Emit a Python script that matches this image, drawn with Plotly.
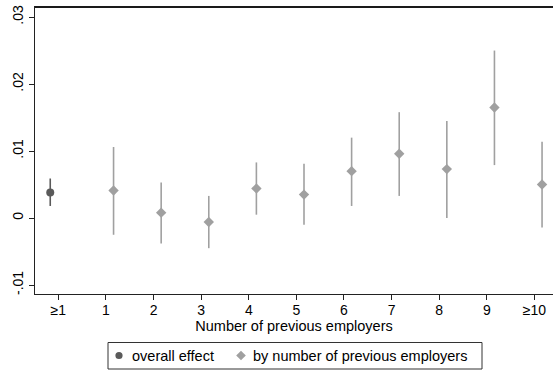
import plotly.graph_objects as go

# Category labels on the x axis
categories = ["≥1", "1", "2", "3", "4", "5", "6", "7", "8", "9", "≥10"]

# Overall effect (all workers with at least one previous employer)
overall_est = [0.0038]
overall_lo = [0.0018]
overall_hi = [0.0059]

# Effects by number of previous employers (1 .. ≥10)
by_est = [0.0041, 0.0008, -0.0006, 0.0044, 0.0035, 0.0070, 0.0096, 0.0073, 0.0165, 0.0050]
by_lo = [-0.0025, -0.0038, -0.0045, 0.0005, -0.0010, 0.0018, 0.0033, 0.0000, 0.0079, -0.0014]
by_hi = [0.0106, 0.0053, 0.0033, 0.0083, 0.0081, 0.0120, 0.0158, 0.0145, 0.0250, 0.0114]

y_ticks = [-0.01, 0.0, 0.01, 0.02, 0.03]
y_tick_labels = ["-.01", "0", ".01", ".02", ".03"]

legend_labels = ["overall effect", "by number of previous employers"]

FONT = "Liberation Sans, Arial, sans-serif"
DARK = "#5a5a5a"
LIGHT = "#a0a0a0"
AXIS = "#222222"

# plot area in pixels
W, H = 553, 374
ML, MR, MT, MB = 35, 0, 7, 80
PW, PH = W - ML - MR, H - MT - MB


def px_x(px):
    return (px - ML) / PW


def px_y(py):
    return (H - MB - py) / PH


x_overall = [0 - 0.17]
x_by = [i + 0.16 for i in range(1, len(categories))]

fig = go.Figure()

fig.add_trace(go.Scatter(
    x=x_overall, y=overall_est, mode="markers", name=legend_labels[0],
    marker=dict(symbol="circle", size=8, color=DARK),
    error_y=dict(type="data", symmetric=False,
                 array=[h - e for h, e in zip(overall_hi, overall_est)],
                 arrayminus=[e - l for e, l in zip(overall_est, overall_lo)],
                 color=DARK, thickness=1.6, width=0),
    showlegend=False,
))

fig.add_trace(go.Scatter(
    x=x_by, y=by_est, mode="markers", name=legend_labels[1],
    marker=dict(symbol="diamond", size=8, color=LIGHT),
    error_y=dict(type="data", symmetric=False,
                 array=[h - e for h, e in zip(by_hi, by_est)],
                 arrayminus=[e - l for e, l in zip(by_est, by_lo)],
                 color=LIGHT, thickness=1.6, width=0),
    showlegend=False,
))

shapes = [
    # top frame line of the plot region
    dict(type="line", xref="paper", yref="paper", x0=0, x1=1, y0=1, y1=1,
         line=dict(color="#1a1a1a", width=2)),
    # legend box
    dict(type="rect", xref="paper", yref="paper",
         x0=px_x(108), x1=px_x(482), y0=px_y(342.5), y1=px_y(369),
         line=dict(color="#333333", width=1), fillcolor="white"),
    # legend key: circle
    dict(type="circle", xref="paper", yref="paper",
         x0=px_x(119 - 3.6), x1=px_x(119 + 3.6), y0=px_y(355.5 + 3.6), y1=px_y(355.5 - 3.6),
         line=dict(width=0), fillcolor=DARK),
]

# legend key: diamond
cx, cy, r = 241, 355.5, 4.8
shapes.append(dict(
    type="path", xref="paper", yref="paper",
    path=(f"M {px_x(cx)},{px_y(cy - r)} L {px_x(cx + r)},{px_y(cy)} "
          f"L {px_x(cx)},{px_y(cy + r)} L {px_x(cx - r)},{px_y(cy)} Z"),
    line=dict(width=0), fillcolor=LIGHT,
))

annotations = [
    dict(text=legend_labels[0], xref="paper", yref="paper", x=px_x(129.5), y=px_y(355.5),
         xanchor="left", yanchor="middle", showarrow=False,
         font=dict(family=FONT, size=14.5, color="#000000")),
    dict(text=legend_labels[1], xref="paper", yref="paper", x=px_x(251), y=px_y(355.5),
         xanchor="left", yanchor="middle", showarrow=False,
         font=dict(family=FONT, size=14.5, color="#000000")),
]

fig.update_layout(
    width=W, height=H,
    margin=dict(l=ML, r=MR, t=MT, b=MB),
    paper_bgcolor="white", plot_bgcolor="white",
    font=dict(family=FONT, size=14, color="#000000"),
    showlegend=False,
    shapes=shapes,
    annotations=annotations,
    xaxis=dict(
        range=[-0.49, 10.39],
        tickmode="array", tickvals=list(range(len(categories))), ticktext=categories,
        ticks="outside", ticklen=5, tickcolor=AXIS, tickwidth=1,
        ticklabelstandoff=-2,
        showline=True, linecolor=AXIS, linewidth=1.3, mirror=True,
        showgrid=False, zeroline=False,
        tickfont=dict(family=FONT, size=14),
        title=dict(text="Number of previous employers", standoff=0,
                   font=dict(family=FONT, size=14.5)),
    ),
    yaxis=dict(
        range=[-0.01134, 0.0315],
        tickmode="array", tickvals=y_ticks, ticktext=y_tick_labels,
        tickangle=-90,
        ticks="outside", ticklen=5, tickcolor=AXIS, tickwidth=1,
        showline=True, linecolor=AXIS, linewidth=1.3,
        showgrid=False, zeroline=False,
        tickfont=dict(family=FONT, size=14),
    ),
)

fig.write_html("out.html")
